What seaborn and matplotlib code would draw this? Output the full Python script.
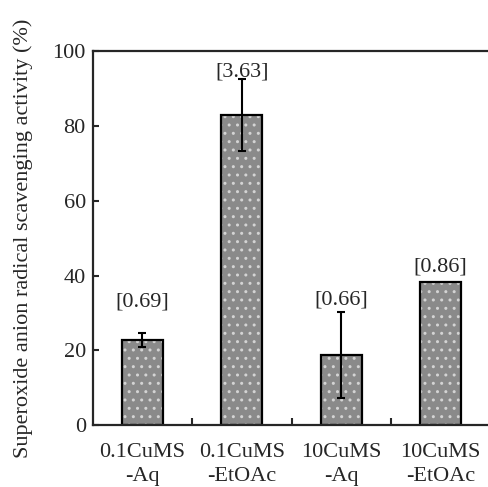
import matplotlib
matplotlib.use("Agg")
import matplotlib.pyplot as plt
import numpy as np
import pandas as pd
import seaborn as sns

samples = ["0.1CuMS\n-Aq", "0.1CuMS\n-EtOAc", "10CuMS\n-Aq", "10CuMS\n-EtOAc"]
activity = [22.8, 83.0, 18.7, 38.2]
error = [1.8, 9.6, 11.5, 0.0]
ratio_labels = ["[0.69]", "[3.63]", "[0.66]", "[0.86]"]
label_y = [33.0, 94.5, 33.5, 42.3]

df = pd.DataFrame({"sample": samples, "activity": activity, "error": error})

sns.set_style("ticks")
plt.rcParams["font.family"] = ["Liberation Serif", "DejaVu Serif"]
plt.rcParams["hatch.linewidth"] = 1.0

fig = plt.figure(figsize=(4.88, 4.87), dpi=100)
ax = fig.add_axes([0.19, 0.127, 0.815, 0.768])

sns.barplot(data=df, x="sample", y="activity", color="#8a8a8a", saturation=1,
            width=0.41, edgecolor="#d4d4d4", linewidth=0, hatch="..", ax=ax)
sns.barplot(data=df, x="sample", y="activity", fill=False, width=0.41,
            edgecolor="black", linewidth=1.6, ax=ax)

x = np.arange(len(samples))
ax.errorbar(x[:3], df["activity"][:3], yerr=df["error"][:3], fmt="none",
            ecolor="black", elinewidth=1.5, capsize=3, capthick=1.5)

for xi, lab, ly in zip(x, ratio_labels, label_y):
    ax.text(xi, ly, lab, ha="center", va="center", fontsize=16)

ax.set_xlim(-0.5, 3.5)
ax.set_ylim(0, 100)
ax.set_yticks([0, 20, 40, 60, 80, 100])
ax.set_xticks(x)
ax.set_xticklabels(samples, linespacing=1.35)
ax.set_xticks([0.5, 1.5, 2.5], minor=True)
ax.tick_params(axis="x", which="major", length=0, labelsize=16, pad=13)
ax.tick_params(axis="x", which="minor", direction="in", length=5, width=1.5)
ax.tick_params(axis="y", direction="in", length=4, width=1.5, labelsize=16, pad=5)
ax.set_xlabel("")
ax.set_ylabel("Superoxide anion radical scavenging activity (%)", fontsize=16,
              labelpad=14)
for s in ax.spines.values():
    s.set_linewidth(1.6)

fig.savefig("out.png", dpi=100)
